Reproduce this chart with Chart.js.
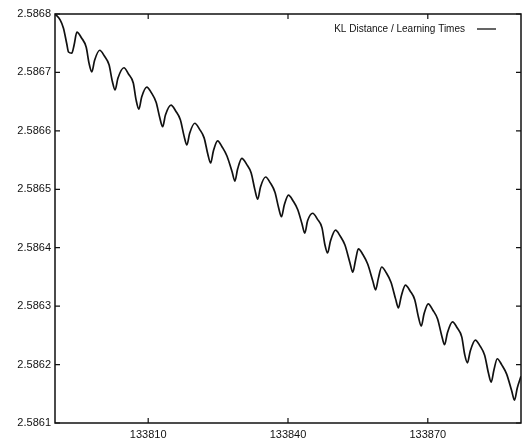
<!DOCTYPE html>
<html>
<head>
<meta charset="utf-8">
<script src="https://cdn.jsdelivr.net/npm/chart.js@4/dist/chart.umd.min.js"></script>
<style>
  html, body { margin: 0; padding: 0; background: #fff; }
  #wrap { width: 523px; height: 441px; }
</style>
</head>
<body>
<div id="wrap"><canvas id="kl"></canvas></div>
<script>
const seriesLabel = "KL Distance / Learning Times";

// learning times (x) and KL distance
const learningTimes = [
  133790.0, 133791.1, 133791.8, 133792.5, 133792.9, 133793.6, 133794.1,
  133794.7, 133795.7, 133796.7, 133797.3, 133797.9, 133798.5,
  133799.6, 133800.6, 133801.6, 133802.3, 133802.9, 133803.5,
  133804.8, 133805.8, 133806.8, 133807.4, 133808.0, 133808.6,
  133809.7, 133810.7, 133811.7, 133812.5, 133813.1, 133813.7,
  133814.9, 133815.9, 133816.9, 133817.7, 133818.3, 133818.9,
  133820.0, 133821.0, 133822.0, 133822.8, 133823.4, 133824.0,
  133824.9, 133825.9, 133826.9, 133828.0, 133828.6, 133829.2,
  133830.1, 133831.1, 133832.1, 133832.9, 133833.5, 133834.1,
  133835.2, 133836.2, 133837.2, 133838.0, 133838.6, 133839.2,
  133840.1, 133841.1, 133842.1, 133843.0, 133843.6, 133844.2,
  133845.3, 133846.3, 133847.3, 133847.9, 133848.5, 133849.1,
  133850.2, 133851.2, 133852.2, 133853.3, 133853.9, 133854.5,
  133855.1, 133856.1, 133857.1, 133858.2, 133858.8, 133859.4,
  133860.1, 133861.1, 133862.1, 133863.1, 133863.7, 133864.3,
  133865.2, 133866.2, 133867.2, 133868.0, 133868.6, 133869.2,
  133870.1, 133871.1, 133872.1, 133873.0, 133873.6, 133874.2,
  133875.3, 133876.3, 133877.3, 133877.9, 133878.5, 133879.1,
  133880.2, 133881.2, 133882.2, 133883.0, 133883.6, 133884.2,
  133884.9, 133885.9, 133886.9, 133888.0, 133888.6, 133889.2,
  133890.0
];

const klDistance = [
  2.586800, 2.586790, 2.586776, 2.586750, 2.586735, 2.586733, 2.586747,
  2.586769, 2.586759, 2.586743, 2.586716, 2.586701, 2.586721,
  2.586738, 2.586728, 2.586713, 2.586685, 2.586670, 2.586690,
  2.586708, 2.586697, 2.586682, 2.586653, 2.586637, 2.586658,
  2.586675, 2.586665, 2.586649, 2.586622, 2.586607, 2.586627,
  2.586644, 2.586634, 2.586619, 2.586591, 2.586576, 2.586596,
  2.586613, 2.586603, 2.586588, 2.586560, 2.586545, 2.586566,
  2.586583, 2.586572, 2.586557, 2.586530, 2.586514, 2.586535,
  2.586553, 2.586543, 2.586528, 2.586499, 2.586483, 2.586504,
  2.586521, 2.586511, 2.586495, 2.586468, 2.586453, 2.586473,
  2.586490, 2.586480, 2.586465, 2.586441, 2.586425, 2.586446,
  2.586459, 2.586449, 2.586434, 2.586406, 2.586391, 2.586411,
  2.586430, 2.586420, 2.586405, 2.586374, 2.586358, 2.586379,
  2.586398, 2.586388, 2.586372, 2.586343, 2.586328, 2.586348,
  2.586367, 2.586357, 2.586341, 2.586312, 2.586297, 2.586317,
  2.586336, 2.586326, 2.586311, 2.586281, 2.586266, 2.586287,
  2.586304, 2.586293, 2.586278, 2.586249, 2.586234, 2.586254,
  2.586273, 2.586263, 2.586247, 2.586218, 2.586203, 2.586223,
  2.586242, 2.586232, 2.586216, 2.586186, 2.586170, 2.586191,
  2.586210, 2.586199, 2.586184, 2.586155, 2.586139, 2.586160,
  2.586180
];

const xTickValues = [133810, 133840, 133870];
const yTickValues = [2.5861, 2.5862, 2.5863, 2.5864, 2.5865, 2.5866, 2.5867, 2.5868];

const INK = "#111";
const FONT = "'Liberation Sans', Arial, sans-serif";

// gnuplot-like frame: box with inward ticks on all four sides, key at top right
const framePlugin = {
  id: "frame",
  afterDraw(chart) {
    const { ctx, chartArea: a, scales: { x, y } } = chart;
    ctx.save();
    ctx.strokeStyle = INK;
    ctx.lineWidth = 1.5;
    ctx.strokeRect(a.left, a.top, a.right - a.left, a.bottom - a.top);

    ctx.lineWidth = 1.2;
    ctx.beginPath();
    x.ticks.forEach(t => {
      const px = x.getPixelForValue(t.value);
      ctx.moveTo(px, a.bottom); ctx.lineTo(px, a.bottom - 5);
      ctx.moveTo(px, a.top); ctx.lineTo(px, a.top + 5);
    });
    y.ticks.forEach(t => {
      const py = y.getPixelForValue(t.value);
      ctx.moveTo(a.left, py); ctx.lineTo(a.left + 5, py);
      ctx.moveTo(a.right, py); ctx.lineTo(a.right - 5, py);
    });
    ctx.stroke();

    // key
    const ds = chart.data.datasets[0];
    const ky = a.top + 15;
    const lineEnd = a.right - 25;
    const lineStart = lineEnd - 19;
    ctx.font = `10px ${FONT}`;
    ctx.fillStyle = INK;
    ctx.textAlign = "right";
    ctx.textBaseline = "middle";
    ctx.fillText(ds.label, lineStart - 12, ky);
    ctx.strokeStyle = ds.borderColor;
    ctx.lineWidth = 1.3;
    ctx.beginPath();
    ctx.moveTo(lineStart, ky); ctx.lineTo(lineEnd, ky);
    ctx.stroke();
    ctx.restore();
  }
};

new Chart(document.getElementById("kl"), {
  type: "line",
  data: {
    datasets: [{
      label: seriesLabel,
      data: learningTimes.map((t, i) => ({ x: t, y: klDistance[i] })),
      borderColor: INK,
      borderWidth: 1.7,
      pointRadius: 0,
      fill: false,
      cubicInterpolationMode: "monotone"
    }]
  },
  options: {
    responsive: true,
    maintainAspectRatio: false,
    animation: false,
    layout: { padding: { top: 14, right: 2, left: 0, bottom: 0 } },
    plugins: {
      legend: { display: false },
      tooltip: { enabled: false }
    },
    scales: {
      x: {
        type: "linear",
        min: 133790,
        max: 133890,
        grid: { display: false, drawTicks: false },
        border: { display: false },
        afterBuildTicks: s => { s.ticks = xTickValues.map(v => ({ value: v })); },
        afterFit: s => { s.height = 18; },
        ticks: {
          color: INK,
          padding: 5,
          maxRotation: 0,
          font: { family: FONT, size: 11 },
          callback: v => String(v)
        }
      },
      y: {
        type: "linear",
        min: 2.5861,
        max: 2.5868,
        grid: { display: false, drawTicks: false },
        border: { display: false },
        afterBuildTicks: s => { s.ticks = yTickValues.map(v => ({ value: v })); },
        afterFit: s => { s.width = 55; },
        ticks: {
          color: INK,
          padding: 4,
          font: { family: FONT, size: 11 },
          callback: v => Number(v).toFixed(4)
        }
      }
    }
  },
  plugins: [framePlugin]
});
</script>
</body>
</html>
